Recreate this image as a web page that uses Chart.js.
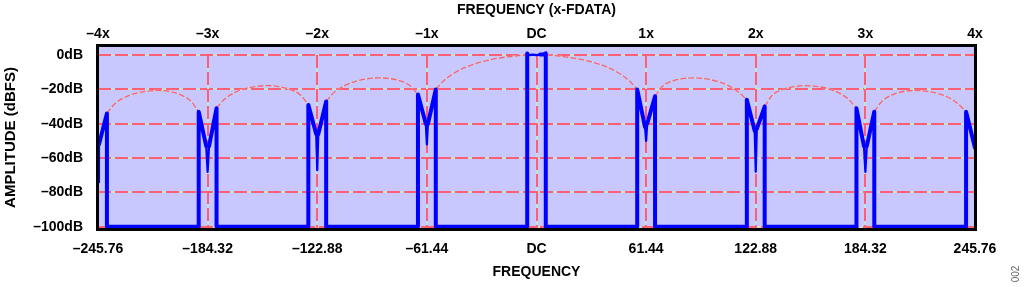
<!DOCTYPE html>
<html>
<head>
<meta charset="utf-8">
<script src="https://cdn.jsdelivr.net/npm/chart.js@4.4.1/dist/chart.umd.min.js"></script>
<style>
  html, body { margin: 0; padding: 0; background: #ffffff; }
  #wrap { width: 1024px; height: 287px; }
</style>
</head>
<body>
<div id="wrap"><canvas id="c" width="1024" height="287"></canvas></div>
<script>
// ---- tick values and labels ----
const freqTicks = [-245.76, -184.32, -122.88, -61.44, 0, 61.44, 122.88, 184.32, 245.76];
const bottomLabels = ['–245.76', '–184.32', '–122.88', '–61.44', 'DC', '61.44', '122.88', '184.32', '245.76'];
const topLabels = ['–4x', '–3x', '–2x', '–1x', 'DC', '1x', '2x', '3x', '4x'];
const dbTicks = [0, -20, -40, -60, -80, -100];
const dbLabels = ['0dB', '–20dB', '–40dB', '–60dB', '–80dB', '–100dB'];

// ---- output spectrum (blue trace) ----
const outputFreq = [
  -245.76, -245.2, -240.76, -240.76,
  -189.32, -189.32, -185.12, -184.32, -183.52, -179.32, -179.32,
  -127.88, -127.88, -123.48, -122.88, -122.28, -117.88, -117.88,
  -66.44, -66.44, -62.04, -61.44, -60.84, -56.44, -56.44,
  -5.2, -5.2, -4.0, -2.0, 0, 2.0, 4.0, 5.2, 5.2,
  56.44, 56.44, 60.84, 61.44, 62.04, 66.44, 66.44,
  117.88, 117.88, 122.28, 122.88, 123.48, 127.88, 127.88,
  179.32, 179.32, 183.52, 184.32, 185.12, 189.32, 189.32,
  240.76, 240.76, 245.76
];
const outputDb = [
  -74, -52, -34, -100,
  -100, -33, -53, -68, -53, -31, -100,
  -100, -29, -46, -67, -46, -27, -100,
  -100, -23, -40, -52, -40, -20, -100,
  -100, 1, 0, 0.3, 0, 0.3, 0.5, 1, -100,
  -100, -20, -42, -50, -40, -24, -100,
  -100, -26, -44, -68, -43, -30, -100,
  -100, -31, -53, -68, -53, -33, -100,
  -100, -33, -54
];

// ---- sinc envelope (red dashed); null = break ----
const envFreq = [
  -240.76, -236.5, -230.4, -224.3, -218.1, -212.0, -205.8, -199.7, -193.5, -189.32, -184.32,
  -179.32, -175.1, -169.0, -162.8, -156.7, -150.5, -144.4, -138.2, -132.1, -127.88, -122.88,
  -117.88, -113.7, -107.5, -101.4, -95.2, -89.1, -82.9, -76.8, -70.7, -66.44, -61.44,
  -56.44, -52, -46, -40, -34, -28, -22, -16, -10, -5, 0, 5, 10, 16, 22, 28, 34, 40, 46, 52, 56.44, 61.44,
  66.44, 70.7, 76.8, 82.9, 89.1, 95.2, 101.4, 107.5, 113.7, 117.88, 122.88,
  127.88, 132.1, 138.2, 144.4, 150.5, 156.7, 162.8, 169.0, 175.1, 179.32, 184.32,
  189.32, 193.5, 199.7, 205.8, 212.0, 218.1, 224.3, 230.4, 236.5, 240.76
];
const envDb = [
  -34, -28.5, -24.4, -22.2, -21, -20.6, -21.2, -23, -27, -33, null,
  -31, -25.9, -21.7, -19.4, -18.2, -17.8, -18.4, -20, -23.4, -29, null,
  -27, -22, -17.8, -15.3, -13.9, -13.3, -13.6, -14.9, -18, -23, null,
  -20, -15, -10.4, -7.2, -4.9, -3.2, -1.9, -1, -0.3, 0, 0, 0, -0.3, -1, -1.9, -3.2, -4.9, -7.2, -10.4, -15, -20, null,
  -24, -18, -14.9, -13.6, -13.3, -13.9, -15.3, -17.8, -22, -26, null,
  -30, -23.4, -20, -18.4, -17.8, -18.2, -19.4, -21.7, -25.9, -31, null,
  -33, -27, -23, -21.2, -20.6, -21, -22.2, -24.4, -28.5, -33
];

const FONT = "'Liberation Sans', Arial, Helvetica, sans-serif";
const RED = '#ff5f73';
const PALE = '#c2e2e0';

const toPoints = (xs, ys) => xs.map((v, i) => ({ x: v, y: ys[i] }));

// a local minimum of the trace (the notch tip) is stroked with a thinner pen
const isNotch = i => {
  const v = outputDb[i];
  if (v === undefined || v <= -99) return false;
  if (i === 0) return v < outputDb[1];
  if (i === outputDb.length - 1) return false;
  return v < outputDb[i - 1] && v < outputDb[i + 1];
};

const decorPlugin = {
  id: 'decor',
  beforeDraw(chart) {
    const { ctx, chartArea: a } = chart;
    ctx.save();
    ctx.fillStyle = '#c8c8ff';
    ctx.fillRect(a.left, a.top, a.right - a.left, a.bottom - a.top);
    ctx.restore();
  },
  beforeDatasetsDraw(chart) {
    const { ctx, chartArea: a } = chart;
    const xs = chart.scales.x, ys = chart.scales.y;
    const seg = (x1, y1, x2, y2) => {
      ctx.setLineDash([]);
      ctx.strokeStyle = PALE;
      ctx.beginPath(); ctx.moveTo(x1, y1); ctx.lineTo(x2, y2); ctx.stroke();
      ctx.setLineDash([13, 4]);
      ctx.strokeStyle = RED;
      ctx.beginPath(); ctx.moveTo(x1, y1); ctx.lineTo(x2, y2); ctx.stroke();
    };
    ctx.save();
    ctx.lineWidth = 2;
    dbTicks.forEach(v => {
      const py = Math.round(ys.getPixelForValue(v));
      seg(a.left, py, a.right, py);
    });
    const yTop = ys.getPixelForValue(0);
    freqTicks.forEach(v => {
      const px = Math.round(xs.getPixelForValue(v));
      if (px > a.left + 3 && px < a.right - 3) seg(px, yTop, px, a.bottom);
    });
    ctx.restore();
  },
  afterDatasetsDraw(chart) {
    const { ctx, chartArea: a } = chart;
    ctx.save();
    ctx.strokeStyle = '#000';
    ctx.lineWidth = 3;
    ctx.setLineDash([]);
    ctx.strokeRect(a.left - 0.5, a.top - 0.5, a.right - a.left + 1, a.bottom - a.top + 1);
    ctx.restore();
  },
  afterDraw(chart) {
    const { ctx } = chart;
    ctx.save();
    ctx.translate(1016, 274);
    ctx.rotate(-Math.PI / 2);
    ctx.fillStyle = '#666';
    ctx.font = "10px " + FONT;
    ctx.textAlign = 'center';
    ctx.textBaseline = 'middle';
    ctx.fillText('002', 0, 0);
    ctx.restore();
  }
};

const tickFont = { family: FONT, size: 14, weight: 'bold' };

new Chart(document.getElementById('c'), {
  type: 'line',
  data: {
    datasets: [
      {
        data: toPoints(outputFreq, outputDb),
        borderColor: '#0000ff',
        borderWidth: 4,
        borderJoinStyle: 'round',
        borderCapStyle: 'round',
        pointRadius: 0,
        tension: 0,
        fill: false,
        segment: {
          borderWidth: ctx => (isNotch(ctx.p0DataIndex) || isNotch(ctx.p1DataIndex)) ? 2.2 : undefined
        },
        xAxisID: 'x', yAxisID: 'y'
      },
      {
        data: toPoints(envFreq, envDb),
        borderColor: RED,
        borderWidth: 1.3,
        borderDash: [6, 2],
        pointRadius: 0,
        cubicInterpolationMode: 'monotone',
        spanGaps: false,
        fill: false,
        xAxisID: 'x', yAxisID: 'y'
      },
      {
        data: toPoints(envFreq, envDb),
        borderColor: PALE,
        borderWidth: 1.3,
        pointRadius: 0,
        cubicInterpolationMode: 'monotone',
        spanGaps: false,
        fill: false,
        xAxisID: 'x', yAxisID: 'y'
      }
    ]
  },
  options: {
    responsive: false,
    animation: false,
    devicePixelRatio: 1,
    layout: { padding: { left: 0, right: 49, top: 0, bottom: 0 } },
    plugins: { legend: { display: false }, tooltip: { enabled: false } },
    scales: {
      x: {
        type: 'linear',
        position: 'bottom',
        min: -245.76, max: 245.76,
        grid: { display: false, drawTicks: false },
        border: { display: false },
        afterBuildTicks: s => { s.ticks = freqTicks.map(v => ({ value: v })); },
        afterFit: s => { s.height = 58; s.paddingLeft = 0; s.paddingRight = 0; },
        ticks: {
          color: '#000', font: tickFont, padding: 12, maxRotation: 0, autoSkip: false,
          callback: (v, i) => bottomLabels[i]
        },
        title: {
          display: true, text: 'FREQUENCY', color: '#000',
          font: { family: FONT, size: 14, weight: 'bold' },
          padding: { top: 0, bottom: 6 }
        }
      },
      xTop: {
        type: 'linear',
        position: 'top',
        min: -245.76, max: 245.76,
        grid: { display: false, drawTicks: false },
        border: { display: false },
        afterBuildTicks: s => { s.ticks = freqTicks.map(v => ({ value: v })); },
        afterFit: s => { s.height = 46; s.paddingLeft = 0; s.paddingRight = 0; },
        ticks: {
          color: '#000', font: tickFont, padding: 3, maxRotation: 0, autoSkip: false,
          callback: (v, i) => topLabels[i]
        },
        title: {
          display: true, text: 'FREQUENCY (x-FDATA)', color: '#000',
          font: { family: FONT, size: 14, weight: 'bold' },
          padding: { top: 1.5, bottom: 0 }
        }
      },
      y: {
        type: 'linear',
        position: 'left',
        min: -101.3, max: 5.3,
        grid: { display: false, drawTicks: false },
        border: { display: false },
        afterBuildTicks: s => { s.ticks = dbTicks.map(v => ({ value: v })); },
        afterFit: s => { s.width = 98; s.paddingTop = 0; s.paddingBottom = 0; },
        ticks: {
          color: '#000', font: tickFont, padding: 15, autoSkip: false,
          callback: (v, i) => dbLabels[i]
        },
        title: {
          display: true, text: 'AMPLITUDE (dBFS)', color: '#000',
          font: { family: FONT, size: 15, weight: 'bold' },
          padding: { top: 1.5, bottom: 0 }
        }
      }
    }
  },
  plugins: [decorPlugin]
});
</script>
</body>
</html>
